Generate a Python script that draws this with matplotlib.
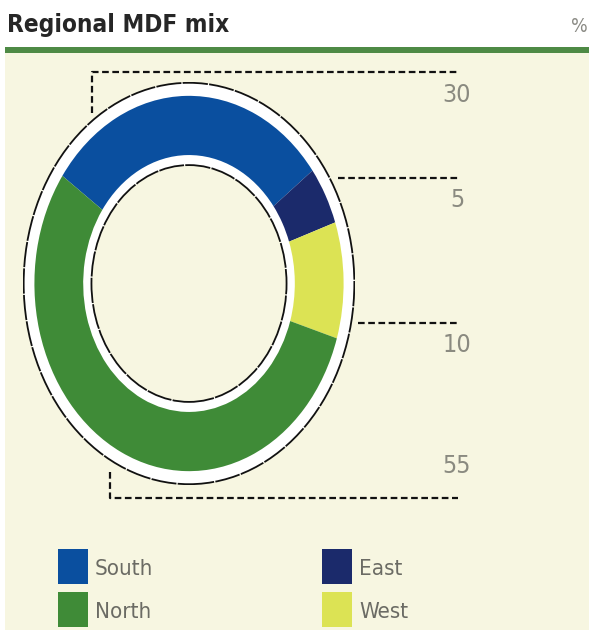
import matplotlib.pyplot as plt
from matplotlib.patches import Rectangle, Circle

# regional shares, clockwise from the upper-left
regions = ["South", "East", "West", "North"]
shares = [30, 5, 10, 55]
colors = ["#0a4f9f", "#1b2a6b", "#dce354", "#3f8b37"]

# labels shown down the right side
side_labels = ["30", "5", "10", "55"]

title = "Regional MDF mix"
unit = "%"

cream = "#f7f6e1"
label_grey = "#8a8a80"
plt.rcParams["font.family"] = ["DejaVu Sans"]
plt.rcParams["font.stretch"] = "condensed"

W, H = 589, 630
fig = plt.figure(figsize=(W / 100, H / 100), dpi=100, facecolor="white")

# background layer in pixel units (y down)
bg = fig.add_axes([0, 0, 1, 1])
bg.set_xlim(0, W)
bg.set_ylim(H, 0)
bg.axis("off")

bg.add_patch(Rectangle((5, 53), W - 5, H - 53, color=cream, lw=0))
bg.add_patch(Rectangle((5, 47), W - 5, 6, color="#4e8a45", lw=0))

bg.text(7, 32, title, fontsize=17.5, fontweight="bold", color="#262626",
        ha="left", va="baseline", fontstretch="condensed")
bg.text(588, 32, unit, fontsize=14, color="#8a8a84", ha="right",
        va="baseline", fontstretch="condensed")

# dashed leader lines
dash = dict(color="#111111", lw=1.6, linestyle=(0, (3, 1.6)))
bg.plot([92, 92, 458], [113, 72, 72], **dash)
bg.plot([338, 458], [178, 178], **dash)
bg.plot([358, 458], [323, 323], **dash)
bg.plot([110, 110, 458], [472, 498, 498], **dash)

baselines = [102, 207, 352, 473]
for txt, yb in zip(side_labels, baselines):
    bg.text(457, yb, txt, fontsize=18, color=label_grey, ha="center",
            va="baseline", fontstretch="condensed", fontweight="light")

# legend squares, two columns
legend_pos = {"South": (58, 549), "North": (58, 592),
              "East": (322, 549), "West": (322, 592)}
for name, col in zip(regions, colors):
    x, y = legend_pos[name]
    bg.add_patch(Rectangle((x, y), 30, 35, color=col, lw=0))
    bg.text(x + 37, y + 26, name, fontsize=16, color="#6b6b64",
            ha="left", va="baseline", fontstretch="condensed")

# donut on its own axes so the circle stretches into an ellipse
x0, x1, y0, y1 = 23, 355, 82, 485
ax = fig.add_axes([x0 / W, 1 - y1 / H, (x1 - x0) / W, (y1 - y0) / H])
ring = (0, (14, 0.7))
ax.add_patch(Circle((0, 0), 1.0, facecolor="white", edgecolor="#111111",
                    lw=1.3, linestyle=ring, zorder=0))
ax.pie(shares, colors=colors, radius=0.935, startangle=145,
       counterclock=False, wedgeprops=dict(width=0.935 - 0.64, lw=0))
ax.add_patch(Circle((0, 0), 0.59, facecolor=cream, edgecolor="#111111",
                    lw=1.3, linestyle=ring, zorder=3))
ax.set_aspect("auto")
ax.set_xlim(-1.004, 1.004)
ax.set_ylim(-1.004, 1.004)
ax.axis("off")

fig.savefig("out.png", dpi=100, facecolor="white")
